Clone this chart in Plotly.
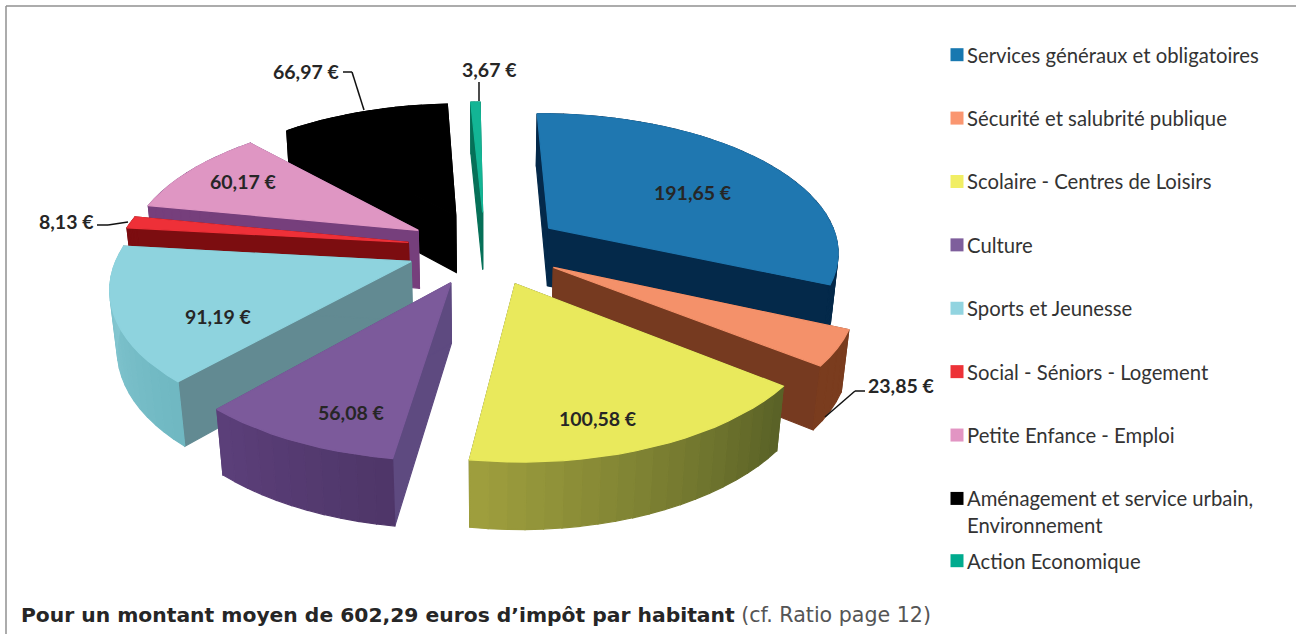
import math
import plotly.graph_objects as go

categories = ["Services généraux et obligatoires", "Sécurité et salubrité publique",
              "Scolaire - Centres de Loisirs", "Culture", "Sports et Jeunesse",
              "Social - Séniors - Logement", "Petite Enfance - Emploi",
              "Aménagement et service urbain,", "Action Economique"]
values = [191.65, 23.85, 100.58, 56.08, 91.19, 8.13, 60.17, 66.97, 3.67]

top_colors = ["#1f77b0", "#f4916a", "#e9e95c", "#7c5a9b", "#8ed3de", "#ee3038", "#df96c3", "#000000", "#13b595"]
legend_colors = ["#1878b0", "#fa9670", "#f1ee64", "#7e5e9c", "#92d4e0", "#ed3237", "#e295c3", "#000000", "#00ab8e"]
side_colors = ["#04294a", "#763a20", "#5f6528", "#5e4a80", "#628a92", "#7c0d10", "#763f7c", "#000000", "#067058"]
outer_start = ["#04294a", "#7a3c1e", "#586026", "#4e3668", "#6fb8c2", "#7c0d10", "#763f7c", "#000000", "#067058"]
outer_end = ["#04294a", "#7a3c1e", "#a0a03e", "#5c3f7a", "#88c9d3", "#7c0d10", "#763f7c", "#000000", "#067058"]

label_pos = [(693, 192), (901, 385), (598, 418), (351, 412), (218, 316), (66, 221), (243, 181), (306, 71), (489, 69)]
leaders = [[(343, 72), (352, 72), (364, 110)], [(479, 82), (479, 101)],
           [(97, 225), (108, 225), (128, 222)], [(825, 417), (855, 391), (865, 391)]]

CX, CY, R, PULL, H, ELEV, DIST = 485, 248, 291, 78, 68, math.radians(28.3), 1640
START = math.radians(-0.7)
SE, CE = math.sin(ELEV), math.cos(ELEV)


def project(x, y, z):
    yc = y * SE + z * CE
    depth = y * CE - z * SE
    s = DIST / (DIST + depth)
    return CX + x * s, CY - yc * s


def hex_mix(a, b, t):
    ca = [int(a[i:i + 2], 16) for i in (1, 3, 5)]
    cb = [int(b[i:i + 2], 16) for i in (1, 3, 5)]
    return "#%02x%02x%02x" % tuple(round(p + (q - p) * t) for p, q in zip(ca, cb))


fig = go.Figure()


def poly(pts, color):
    fig.add_trace(go.Scatter(x=[p[0] for p in pts] + [pts[0][0]], y=[p[1] for p in pts] + [pts[0][1]],
                             mode="lines", fill="toself", fillcolor=color,
                             line=dict(color=color, width=1.2), showlegend=False, hoverinfo="skip"))


total = sum(values)
wedges = []
acc = 0.0
for i, v in enumerate(values):
    a0 = START + acc / total * 2 * math.pi
    a1 = START + (acc + v) / total * 2 * math.pi
    acc += v
    wedges.append((i, a0, a1))


def wedge_depth(w):
    mid = (w[1] + w[2]) / 2
    return -math.cos(mid)


for i, a0, a1 in sorted(wedges, key=wedge_depth):
    mid = (a0 + a1) / 2
    ox, oy = PULL * math.sin(mid), PULL * math.cos(mid)
    n = max(3, int((a1 - a0) / math.radians(3)))
    angs = [a0 + (a1 - a0) * k / n for k in range(n + 1)]
    rim = [(ox + R * math.sin(a), oy + R * math.cos(a)) for a in angs]

    # the two radial walls first, the outer wall covers what it hides
    for (x1, y1) in (rim[0], rim[-1]):
        poly([project(ox, oy, 0), project(x1, y1, 0), project(x1, y1, -H), project(ox, oy, -H)], side_colors[i])
    # outer wall, as short segments shaded along the arc
    for k in range(n):
        (x1, y1), (x2, y2) = rim[k], rim[k + 1]
        poly([project(x1, y1, 0), project(x2, y2, 0), project(x2, y2, -H), project(x1, y1, -H)],
             hex_mix(outer_start[i], outer_end[i], (k + 0.5) / n))
    # top face
    poly([project(ox, oy, 0)] + [project(x, y, 0) for x, y in rim], top_colors[i])

# legend entries
for i, (name, color) in enumerate(zip(categories, legend_colors)):
    fig.add_trace(go.Scatter(x=[None], y=[None], mode="markers", name=name, legendgroup=name,
                             legend="legend2" if i == 8 else "legend",
                             marker=dict(symbol="square", size=13, color=color)))

fmt = lambda v: f"{v:.2f}".replace(".", ",") + " €"
annotations = [dict(x=p[0], y=p[1], xref="x", yref="y", text=f"<b>{fmt(v)}</b>", showarrow=False,
                    font=dict(family="Lato", size=19.5, color="#262626"))
               for v, p in zip(values, label_pos)]
annotations.append(dict(x=967, y=525, xref="x", yref="y", xanchor="left", showarrow=False, xshift=-2,
                        text="Environnement", font=dict(family="Lato", size=20.3, color="#333333")))
annotations.append(dict(x=19, y=615, xref="x", yref="y", xanchor="left", showarrow=False,
                        text="<b>Pour un montant moyen de 602,29 euros d’impôt par habitant</b>"
                             " <span style='font-size:20.6px;color:#555555'>(cf. Ratio page 12)</span>",
                        font=dict(family="DejaVu Sans", size=20.3, color="#262626")))

shapes = [dict(type="line", xref="x", yref="y", x0=6, y0=6, x1=1296, y1=6, line=dict(color="#909090", width=1.5)),
          dict(type="line", xref="x", yref="y", x0=6, y0=6, x1=6, y1=634, line=dict(color="#909090", width=1.5))]
for path in leaders:
    for (x0, y0), (x1, y1) in zip(path, path[1:]):
        shapes.append(dict(type="line", xref="x", yref="y", x0=x0, y0=y0, x1=x1, y1=y1,
                           line=dict(color="#111111", width=1.5)))

legend_style = dict(font=dict(family="Lato", size=20.3, color="#333333"), bgcolor="rgba(0,0,0,0)",
                    itemwidth=30, indentation=-10, xanchor="left", yanchor="top",
                    itemclick=False, itemdoubleclick=False)
fig.update_layout(
    width=1296, height=634, margin=dict(l=0, r=0, t=0, b=0),
    paper_bgcolor="white", plot_bgcolor="white",
    xaxis=dict(range=[0, 1296], visible=False, fixedrange=True),
    yaxis=dict(range=[634, 0], visible=False, fixedrange=True),
    annotations=annotations, shapes=shapes,
    legend=dict(x=937 / 1296, y=1 - 35 / 634, tracegroupgap=34, **legend_style),
    legend2=dict(x=937 / 1296, y=1 - 541 / 634, **legend_style),
)
post = """document.body.style.margin='0';
setTimeout(function(){document.querySelectorAll('.legendpoints').forEach(function(g){
  g.setAttribute('transform',(g.getAttribute('transform')||'')+' translate(10,0)');});},0);"""
fig.write_html("out.html", post_script=post, config=dict(displayModeBar=False))
